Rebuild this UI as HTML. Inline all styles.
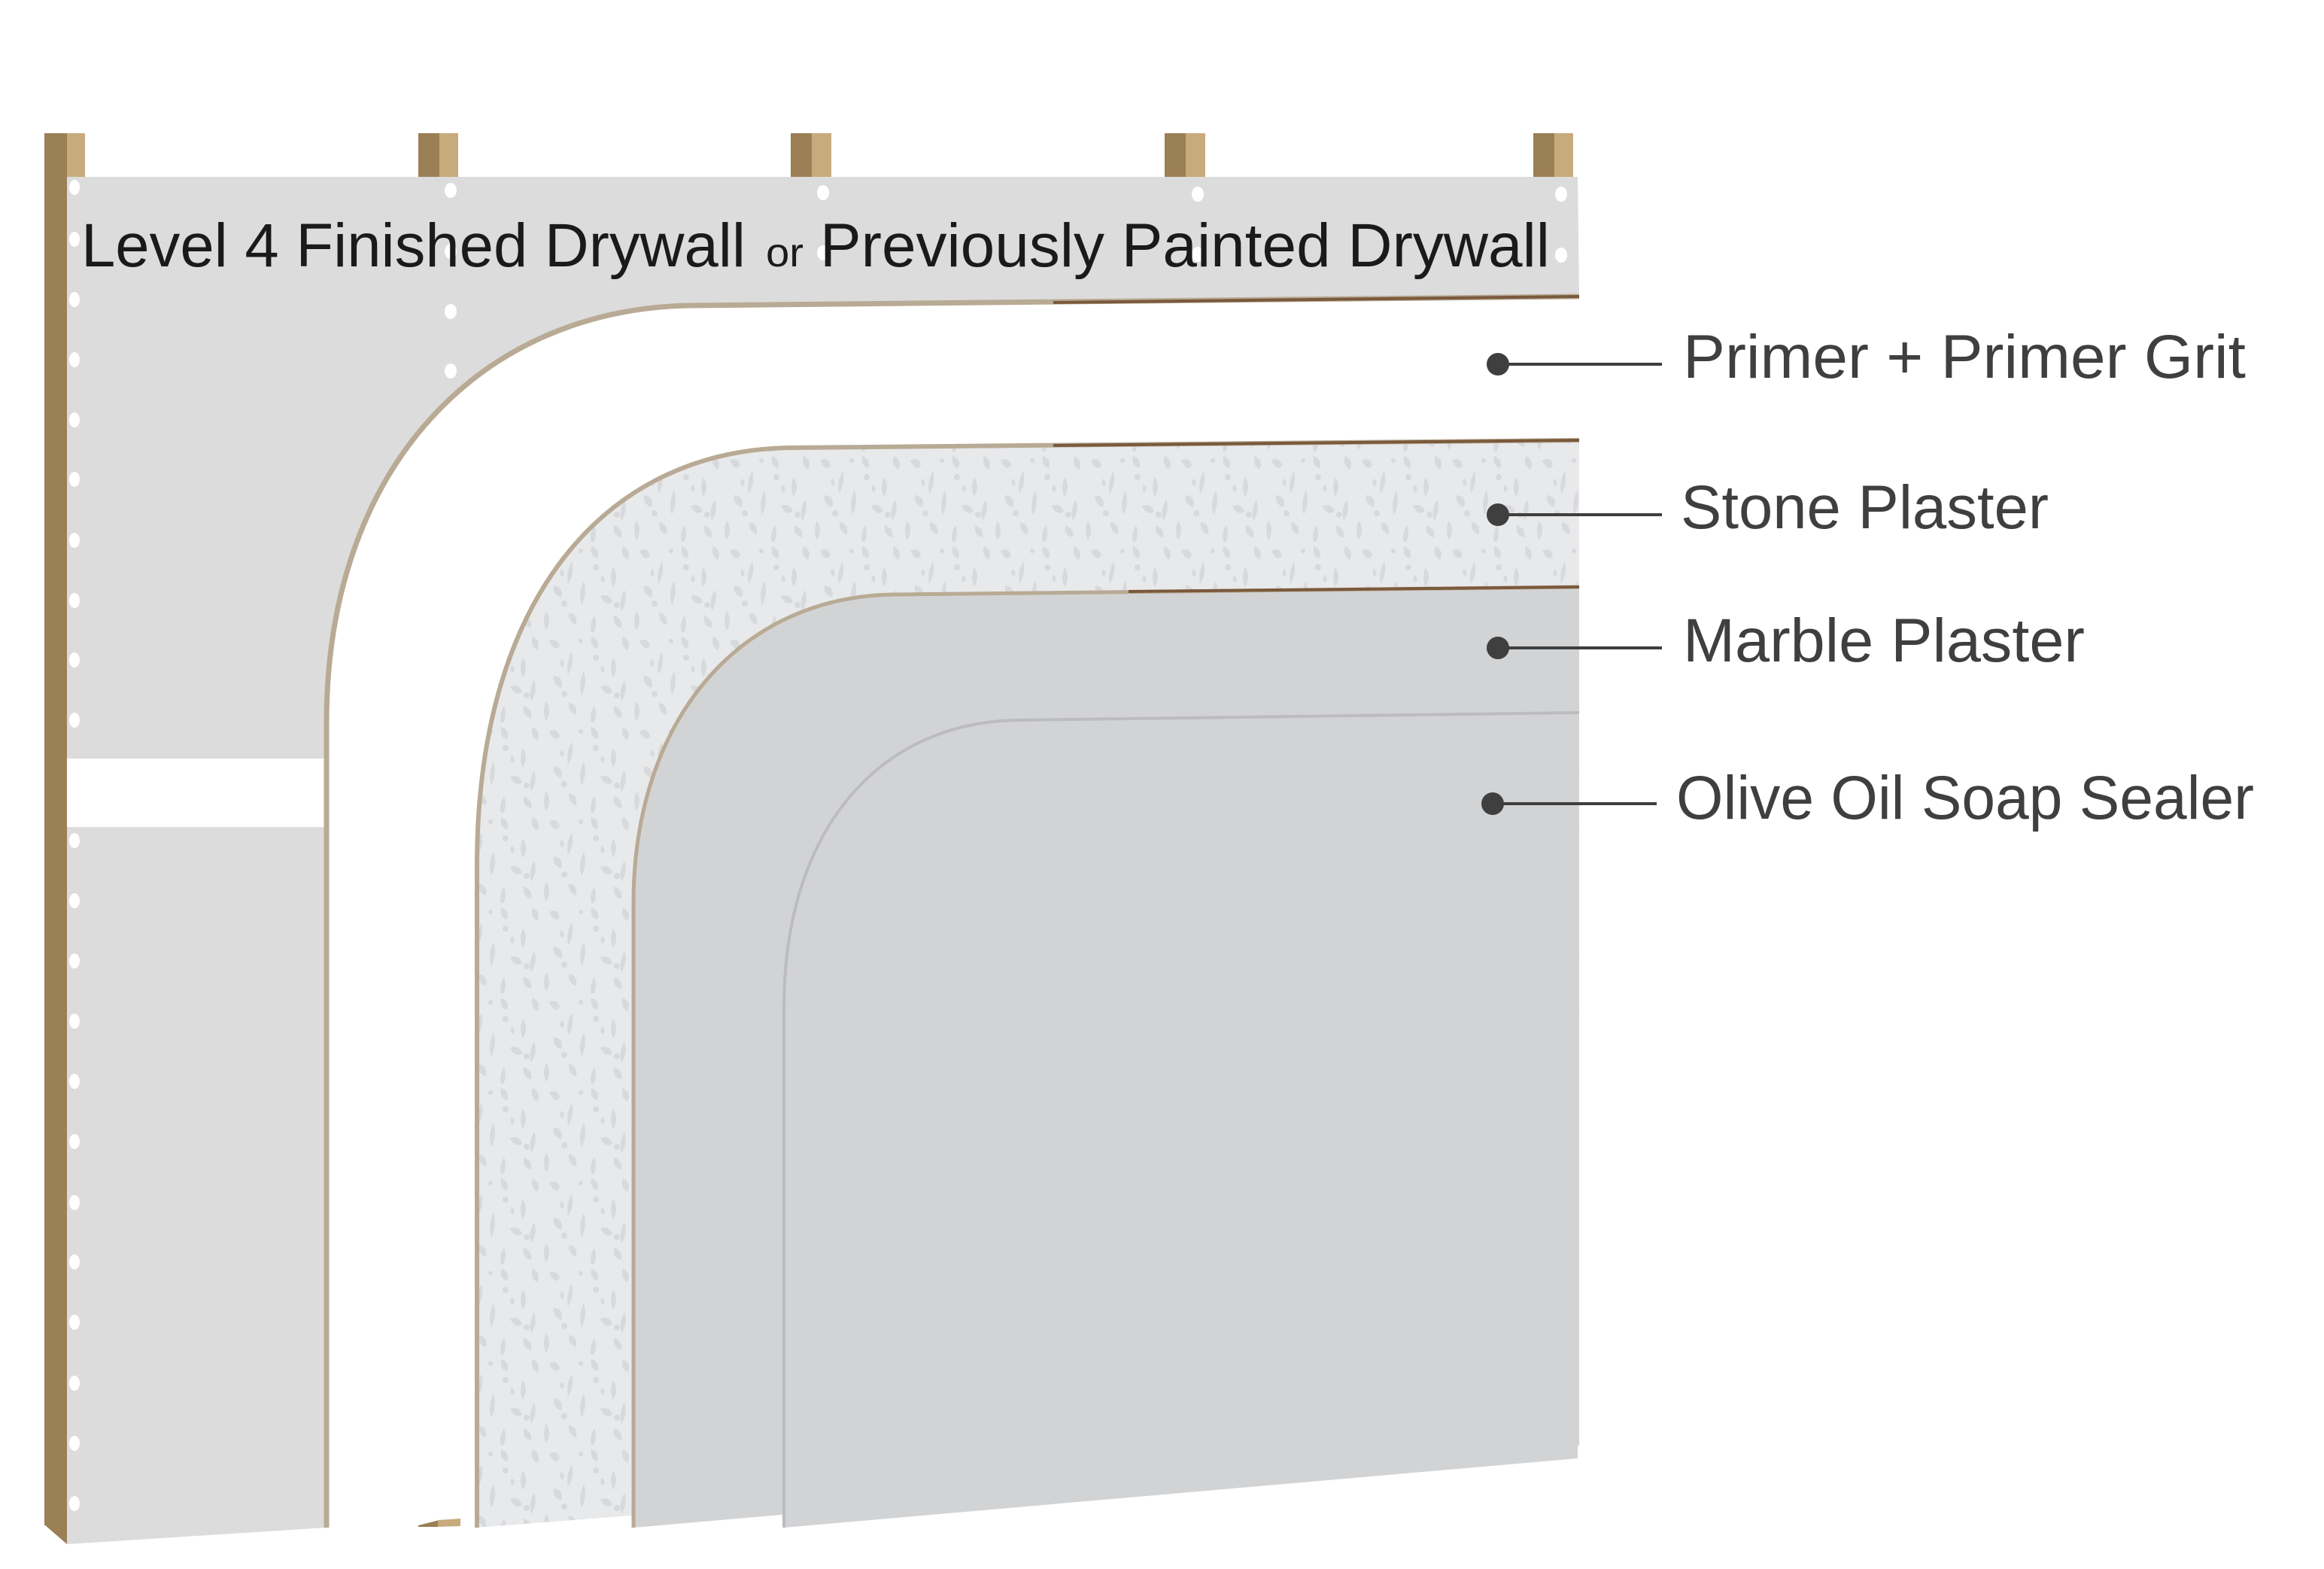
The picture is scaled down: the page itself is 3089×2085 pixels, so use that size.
<!DOCTYPE html>
<html><head><meta charset="utf-8"><style>
html,body{margin:0;padding:0;background:#fff;}
svg{display:block;}
</style></head><body>
<svg width="3089" height="2085" viewBox="0 0 3089 2085" xmlns="http://www.w3.org/2000/svg">
<defs>
<pattern id="tex" width="120" height="120" patternUnits="userSpaceOnUse">
<rect width="120" height="120" fill="#e8e9eb"/>
<g fill="#d8d9dc">
<path d="M10 12 q10 -6 14 6 q-6 10 -14 -6z"/>
<path d="M40 26 q4 16 -5 30 q-3 -16 5 -30z"/>
<path d="M66 6 q12 4 8 16 q-10 -2 -8 -16z"/>
<path d="M95 34 q8 12 0 26 q-6 -12 0 -26z"/>
<path d="M108 6 q12 6 6 18 q-10 -6 -6 -18z"/>
<path d="M16 58 q14 2 10 16 q-12 -4 -10 -16z"/>
<path d="M56 52 q5 16 -3 32 q-5 -16 3 -32z"/>
<path d="M78 72 q12 -4 16 8 q-10 6 -16 -8z"/>
<path d="M110 64 q5 14 -4 28 q-4 -14 4 -28z"/>
<path d="M6 92 q8 12 0 26 q-6 -12 0 -26z"/>
<path d="M36 94 q12 2 10 16 q-11 -3 -10 -16z"/>
<path d="M70 98 q5 14 -3 26 q-5 -14 3 -26z"/>
<path d="M96 98 q12 4 10 16 q-12 -2 -10 -16z"/>
<path d="M26 36 q6 4 2 10 q-6 -2 -2 -10z"/>
<path d="M80 44 q6 4 2 10 q-6 -2 -2 -10z"/>
<circle cx="30" cy="82" r="4"/><circle cx="72" cy="34" r="4"/><circle cx="100" cy="84" r="4"/><circle cx="52" cy="12" r="3"/>
</g>
</pattern>
</defs>

<!-- studs -->
<g>
<rect x="59" y="177" width="30" height="1850" fill="#9b7f55"/>
<rect x="89" y="177" width="24" height="60" fill="#c8ab7c"/>
<polygon points="59,2026 89,2026 89,2052" fill="#9b7f55"/>
<rect x="556" y="177" width="28" height="60" fill="#9b7f55"/><rect x="584" y="177" width="25" height="60" fill="#c8ab7c"/>
<rect x="1051" y="177" width="28" height="60" fill="#9b7f55"/><rect x="1079" y="177" width="26" height="60" fill="#c8ab7c"/>
<rect x="1548" y="177" width="28" height="60" fill="#9b7f55"/><rect x="1576" y="177" width="26" height="60" fill="#c8ab7c"/>
<rect x="2038" y="177" width="28" height="60" fill="#9b7f55"/><rect x="2066" y="177" width="25" height="60" fill="#c8ab7c"/>
</g>

<!-- drywall -->
<polygon points="89,235 2097,235 2099,394 2099,1900 434,2030 89,2052" fill="#dcdcdc"/>
<rect x="89" y="1008" width="345" height="91" fill="#fff"/>

<!-- primer -->
<path d="M2099,394 L918,406 C640,410 434,620 434,960 L434,2040 L2099,2040 Z" fill="#fff"/>
<path d="M2099,394 L918,406 C640,410 434,620 434,960 L434,2030" fill="none" stroke="#b8aa94" stroke-width="7"/>
<path d="M2099,394 L1400,402" stroke="#7a5a3c" stroke-width="4"/>
<polygon points="556,2027 584,2020 584,2029 556,2029" fill="#9b7f55"/>
<polygon points="582,2020 612,2018 612,2028 582,2029" fill="#c8ab7c"/>

<!-- stone plaster -->
<path d="M2099,585 L1048,595 C800,600 634,800 634,1150 L634,2030 L2099,1915 Z" fill="url(#tex)"/>
<path d="M2099,585 L1048,595 C800,600 634,800 634,1150 L634,2030" fill="none" stroke="#b8aa94" stroke-width="6"/>
<path d="M2099,585 L1400,592" stroke="#7a5a3c" stroke-width="4"/>

<!-- marble -->
<path d="M2099,780 L1190,790 C980,792 842,960 842,1200 L842,2030 L2099,1921 Z" fill="#d2d3d5"/>
<path d="M2099,780 L1190,790 C980,792 842,960 842,1200 L842,2030" fill="none" stroke="#b8aa94" stroke-width="5"/>
<path d="M2099,780 L1500,786" stroke="#7a5a3c" stroke-width="4"/>

<!-- sealer -->
<path d="M2099,947 L1352,957 C1170,960 1042,1100 1042,1340 L1042,2030 L2097,1938 Z" fill="#d2d3d5"/>
<path d="M2099,947 L1352,957 C1170,960 1042,1100 1042,1340 L1042,2030" fill="none" stroke="#bcbcbe" stroke-width="4"/>

<!-- screw dots -->
<g fill="#fff">
<ellipse cx="99" cy="249" rx="7" ry="10"/><ellipse cx="99" cy="318" rx="7" ry="10"/><ellipse cx="99" cy="398" rx="7" ry="10"/>
<ellipse cx="99" cy="478" rx="7" ry="10"/><ellipse cx="99" cy="558" rx="7" ry="10"/><ellipse cx="99" cy="637" rx="7" ry="10"/>
<ellipse cx="99" cy="718" rx="7" ry="10"/><ellipse cx="99" cy="798" rx="7" ry="10"/><ellipse cx="99" cy="877" rx="7" ry="10"/>
<ellipse cx="99" cy="957" rx="7" ry="10"/>
<ellipse cx="99" cy="1117" rx="7" ry="10"/><ellipse cx="99" cy="1197" rx="7" ry="10"/><ellipse cx="99" cy="1277" rx="7" ry="10"/>
<ellipse cx="99" cy="1357" rx="7" ry="10"/><ellipse cx="99" cy="1437" rx="7" ry="10"/><ellipse cx="99" cy="1517" rx="7" ry="10"/>
<ellipse cx="99" cy="1598" rx="7" ry="10"/><ellipse cx="99" cy="1677" rx="7" ry="10"/><ellipse cx="99" cy="1757" rx="7" ry="10"/>
<ellipse cx="99" cy="1838" rx="7" ry="10"/><ellipse cx="99" cy="1918" rx="7" ry="10"/><ellipse cx="99" cy="1998" rx="7" ry="10"/>
<ellipse cx="599" cy="253" rx="8" ry="10"/><ellipse cx="599" cy="334" rx="8" ry="10"/><ellipse cx="599" cy="414" rx="8" ry="10"/><ellipse cx="599" cy="493" rx="8" ry="10"/>
<ellipse cx="1094" cy="256" rx="8" ry="10"/><ellipse cx="1094" cy="336" rx="8" ry="10"/>
<ellipse cx="1592" cy="258" rx="8" ry="10"/><ellipse cx="1592" cy="338" rx="8" ry="10"/>
<ellipse cx="2075" cy="258" rx="8" ry="10"/><ellipse cx="2075" cy="339" rx="8" ry="10"/>
</g>

<!-- title -->
<g font-family="'Liberation Sans', sans-serif" fill="#1a1a1a">
<text x="108" y="354" font-size="82" textLength="883" lengthAdjust="spacingAndGlyphs">Level 4 Finished Drywall</text>
<text x="1018" y="354" font-size="54" textLength="50" lengthAdjust="spacingAndGlyphs">or</text>
<text x="1090" y="354" font-size="82" textLength="970" lengthAdjust="spacingAndGlyphs">Previously Painted Drywall</text>
</g>

<!-- labels -->
<g fill="#3f3f3f" stroke="#3f3f3f">
<circle cx="1991" cy="484" r="15" stroke="none"/><line x1="1991" y1="484" x2="2209" y2="484" stroke-width="4"/>
<circle cx="1991" cy="684" r="15" stroke="none"/><line x1="1991" y1="684" x2="2209" y2="684" stroke-width="4"/>
<circle cx="1991" cy="861" r="15" stroke="none"/><line x1="1991" y1="861" x2="2209" y2="861" stroke-width="4"/>
<circle cx="1984" cy="1068" r="15" stroke="none"/><line x1="1984" y1="1068" x2="2202" y2="1068" stroke-width="4"/>
</g>
<g font-family="'Liberation Sans', sans-serif" fill="#3f3f3f" font-size="82">
<text x="2237" y="502" textLength="748" lengthAdjust="spacingAndGlyphs">Primer + Primer Grit</text>
<text x="2234" y="702" textLength="489" lengthAdjust="spacingAndGlyphs">Stone Plaster</text>
<text x="2237" y="879" textLength="534" lengthAdjust="spacingAndGlyphs">Marble Plaster</text>
<text x="2228" y="1088" textLength="768" lengthAdjust="spacingAndGlyphs">Olive Oil Soap Sealer</text>
</g>
</svg>
</body></html>
